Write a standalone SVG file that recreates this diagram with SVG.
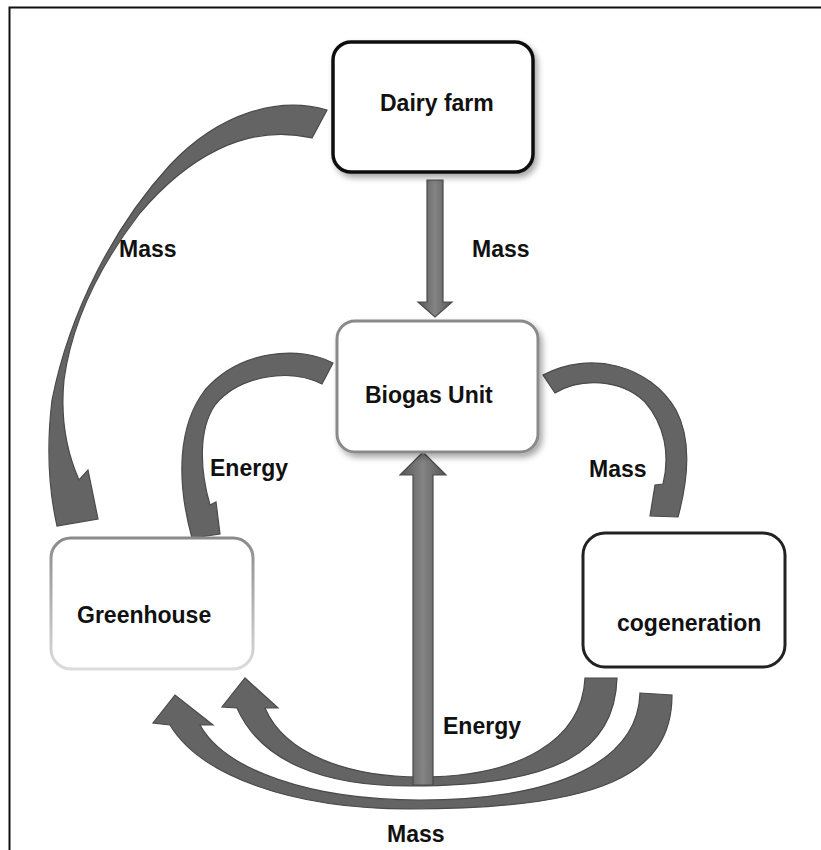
<svg xmlns="http://www.w3.org/2000/svg" width="821" height="850" viewBox="0 0 821 850">
<style>
.lbl{font-family:"Liberation Sans",Arial,sans-serif;font-weight:bold;font-size:23px;fill:#111}
.arr{fill:#646464;stroke:#4a4a4a;stroke-width:1.2;stroke-linejoin:miter}
.sarr{fill:url(#vg);stroke:#4a4a4a;stroke-width:1.2}
.box{fill:#fff}
</style>
<defs>
<filter id="sh" x="-20%" y="-20%" width="150%" height="150%">
<feGaussianBlur in="SourceAlpha" stdDeviation="3"/>
<feOffset dx="3" dy="4" result="b"/>
<feComponentTransfer><feFuncA type="linear" slope="0.35"/></feComponentTransfer>
<feMerge><feMergeNode/><feMergeNode in="SourceGraphic"/></feMerge>
</filter>
<linearGradient id="vg" x1="0" y1="0" x2="1" y2="0">
<stop offset="0" stop-color="#555"/>
<stop offset="0.5" stop-color="#858585"/>
<stop offset="1" stop-color="#555"/>
</linearGradient>
<linearGradient id="gh" x1="0" y1="0" x2="0" y2="1">
<stop offset="0" stop-color="#8a8a8a"/>
<stop offset="1" stop-color="#dcdcdc"/>
</linearGradient>
</defs>
<rect width="821" height="850" fill="#fff"/>
<path d="M9.5,850 V7.5 H821" fill="none" stroke="#111" stroke-width="2"/>

<g id="connectors">
<!-- Dairy farm to Greenhouse (Mass) -->
<path class="arr" d="M327,110 C280,96 220,112 170,165 C115,225 70,310 52,400 C46,450 50,495 57,526 L98,519 L88,470 L79,480 C68,455 60,420 64,380 C72,320 100,265 140,213 C185,160 245,122 312,138 Z"/>
<!-- Biogas to Greenhouse (Energy) -->
<path class="arr" d="M333,363 C300,345 240,350 205,390 C178,425 176,480 192,538 L220,534 L216,502 L210,505 C200,470 198,430 215,405 C240,375 290,368 322,384 Z"/>
<!-- Biogas to cogeneration (Mass) -->
<path class="arr" d="M543,375 C590,350 650,365 676,410 C692,440 688,480 678,517 L650,516 L655,485 L663,484 C670,455 665,425 645,402 C620,378 580,378 555,393 Z"/>
<!-- cogeneration to Greenhouse inner arc -->
<path class="arr" d="M585,678 L617,678 C615,750 560,786 410,786 C320,786 260,760 237,708 L222,707 L245,678 L278,708 L265,708 C285,755 350,777 420,777 C520,777 582,740 585,678 Z"/>
<!-- cogeneration to Greenhouse outer arc -->
<path class="arr" d="M640,693 L672,695 C672,775 600,809 410,809 C290,809 200,775 170,725 L153,723 L175,695 L213,725 L200,725 C225,770 310,800 420,800 C560,800 638,760 640,693 Z"/>
<!-- Energy up arrow to Biogas -->
<path class="sarr" d="M413,785 V475 H400 L423,452 L446,475 H433 V785 Z"/>
<!-- Dairy farm down to Biogas -->
<path class="sarr" d="M427,180 H443 V302 H452 L435,317 L418,302 H427 Z"/>
</g>

<g id="dairy-farm">
<rect class="box" x="333" y="42" width="200" height="130" rx="18" stroke="#111" stroke-width="3.5" filter="url(#sh)"/>
<text class="lbl" x="380" y="111">Dairy farm</text>
</g>

<g id="biogas-unit">
<rect class="box" x="337" y="321" width="201" height="131" rx="18" stroke="#8a8a8a" stroke-width="3" filter="url(#sh)"/>
<text class="lbl" x="365" y="403">Biogas Unit</text>
</g>

<g id="greenhouse">
<rect class="box" x="51" y="538" width="202" height="131" rx="20" stroke="url(#gh)" stroke-width="3"/>
<text class="lbl" x="77" y="623">Greenhouse</text>
</g>

<g id="cogeneration">
<rect class="box" x="583" y="533" width="202" height="134" rx="22" stroke="#222" stroke-width="3"/>
<text class="lbl" x="617" y="631">cogeneration</text>
</g>

<g id="labels">
<text class="lbl" x="119" y="257">Mass</text>
<text class="lbl" x="472" y="257">Mass</text>
<text class="lbl" x="210" y="476">Energy</text>
<text class="lbl" x="589" y="477">Mass</text>
<text class="lbl" x="443" y="734">Energy</text>
<text class="lbl" x="387" y="842">Mass</text>
</g>
</svg>
